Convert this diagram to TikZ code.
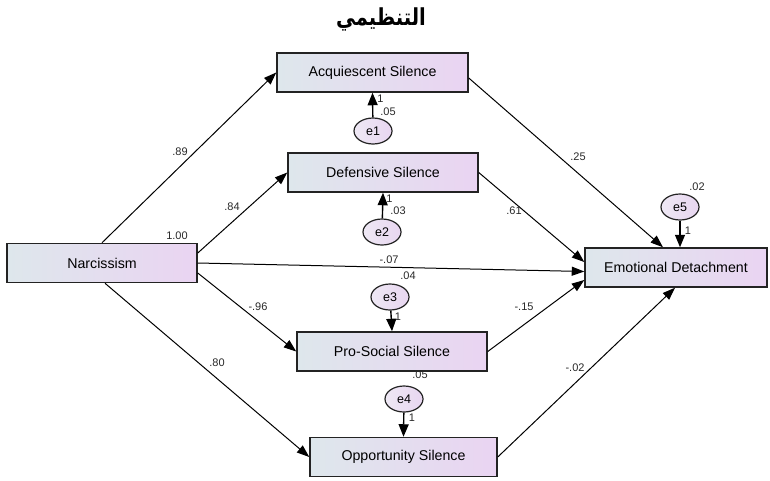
\documentclass[tikz,border=0pt]{standalone}
\usepackage{fontspec}
\setmainfont{Liberation Sans}
\newfontfamily\arabicfont[Script=Arabic]{DejaVu Sans}
\TeXXeTstate=1
\usetikzlibrary{arrows.meta,shapes.geometric}
\definecolor{boxL}{RGB}{222,231,236}
\definecolor{boxR}{RGB}{234,212,242}
\definecolor{ellL}{RGB}{238,232,244}
\definecolor{ellR}{RGB}{232,214,240}
\definecolor{edge}{RGB}{35,35,35}
\definecolor{lbl}{RGB}{40,40,40}
\tikzset{
  varbox/.style={draw=edge, line width=1.5pt, rectangle, left color=boxL, right color=boxR,
    minimum height=39pt, inner sep=0pt, font=\fontsize{14.2}{16}\selectfont},
  errnode/.style={draw=edge, line width=1.2pt, ellipse, left color=ellL, right color=ellR,
    minimum width=38pt, minimum height=26pt, inner sep=0pt, font=\fontsize{12.5}{14}\selectfont},
  path/.style={draw=black, line width=1pt, -{Triangle[length=12.5pt,width=9pt]}},
  errpath/.style={draw=black, line width=1.4pt, -{Triangle[length=12.5pt,width=10pt]}},
  coef/.style={font=\fontsize{11}{13}\selectfont, text=lbl, inner sep=0pt}
}
\begin{document}
\begin{tikzpicture}[x=1pt,y=-1pt]
\useasboundingbox (0,0) rectangle (770,480);

% title
\node (title) at (381,19) {\scalebox{1}[1.2]{\arabicfont\bfseries\fontsize{19.5}{24}\selectfont\beginR التنظيمي\endR}};

% observed variables
\node[varbox, minimum width=190pt] (nar) at (102,263) {Narcissism};
\node[varbox, minimum width=191pt] (acq) at (372.5,72.5) {Acquiescent Silence};
\node[varbox, minimum width=190pt] (def) at (383,172.5) {Defensive Silence};
\node[varbox, minimum width=190pt] (pro) at (392,351.5) {Pro-Social Silence};
\node[varbox, minimum width=187pt] (opp) at (403.5,457) {Opportunity Silence};
\node[varbox, minimum width=182pt] (emo) at (676,267.5) {Emotional Detachment};

% error terms
\node[errnode] (e1) at (373,131) {e1};
\node[errnode] (e2) at (382,232) {e2};
\node[errnode] (e3) at (390,297) {e3};
\node[errnode] (e4) at (404,399) {e4};
\node[errnode] (e5) at (680,207) {e5};

% paths from Narcissism
\draw[path] (nar.north) -- (acq.west);
\draw[path] ([yshift=10pt]nar.east) -- (def.west);
\draw[path] (nar.east) -- ([yshift=-4pt]emo.west);
\draw[path] ([yshift=-10pt]nar.east) -- (pro.west);
\draw[path] ([xshift=3pt]nar.south) -- (opp.west);

% paths to Emotional Detachment
\draw[path] ([yshift=-5.5pt]acq.east) -- ([xshift=-13pt]emo.north);
\draw[path] (def.east) -- ([yshift=5.5pt]emo.west);
\draw[path] (pro.east) -- ([yshift=-12.5pt]emo.west);
\draw[path] (opp.east) -- ([xshift=-1pt]emo.south);

% error paths
\draw[errpath] (e1) -- (acq.south);
\draw[errpath] (e2) -- (def.south);
\draw[errpath] (e3) -- (pro.north);
\draw[errpath] (e4) -- (opp.north);
\draw[errpath] (e5) -- (emo.north -| e5);

% coefficients
\node[coef] (c1) at (180,152) {.89};
\node[coef] (c2) at (232,207) {.84};
\node[coef] (c3) at (177,236) {1.00};
\node[coef] (c4) at (389,260) {-.07};
\node[coef] (c5) at (258,307) {-.96};
\node[coef] (c6) at (217,363) {.80};
\node[coef] (c7) at (578,157) {.25};
\node[coef] (c8) at (514,211) {.61};
\node[coef] (c9) at (524,307) {-.15};
\node[coef] (c10) at (575,368) {-.02};

% error variances and fixed loadings
\node[coef] (v1) at (388,112) {.05};
\node[coef] (w1) at (380.5,99) {1};
\node[coef] (v2) at (398,211) {.03};
\node[coef] (w2) at (389.5,199) {1};
\node[coef] (v3) at (408,276) {.04};
\node[coef] (w3) at (398,317) {1};
\node[coef] (v4) at (420,375) {.05};
\node[coef] (w4) at (412,418) {1};
\node[coef] (v5) at (697,187) {.02};
\node[coef] (w5) at (688,231) {1};
\end{tikzpicture}
\end{document}
